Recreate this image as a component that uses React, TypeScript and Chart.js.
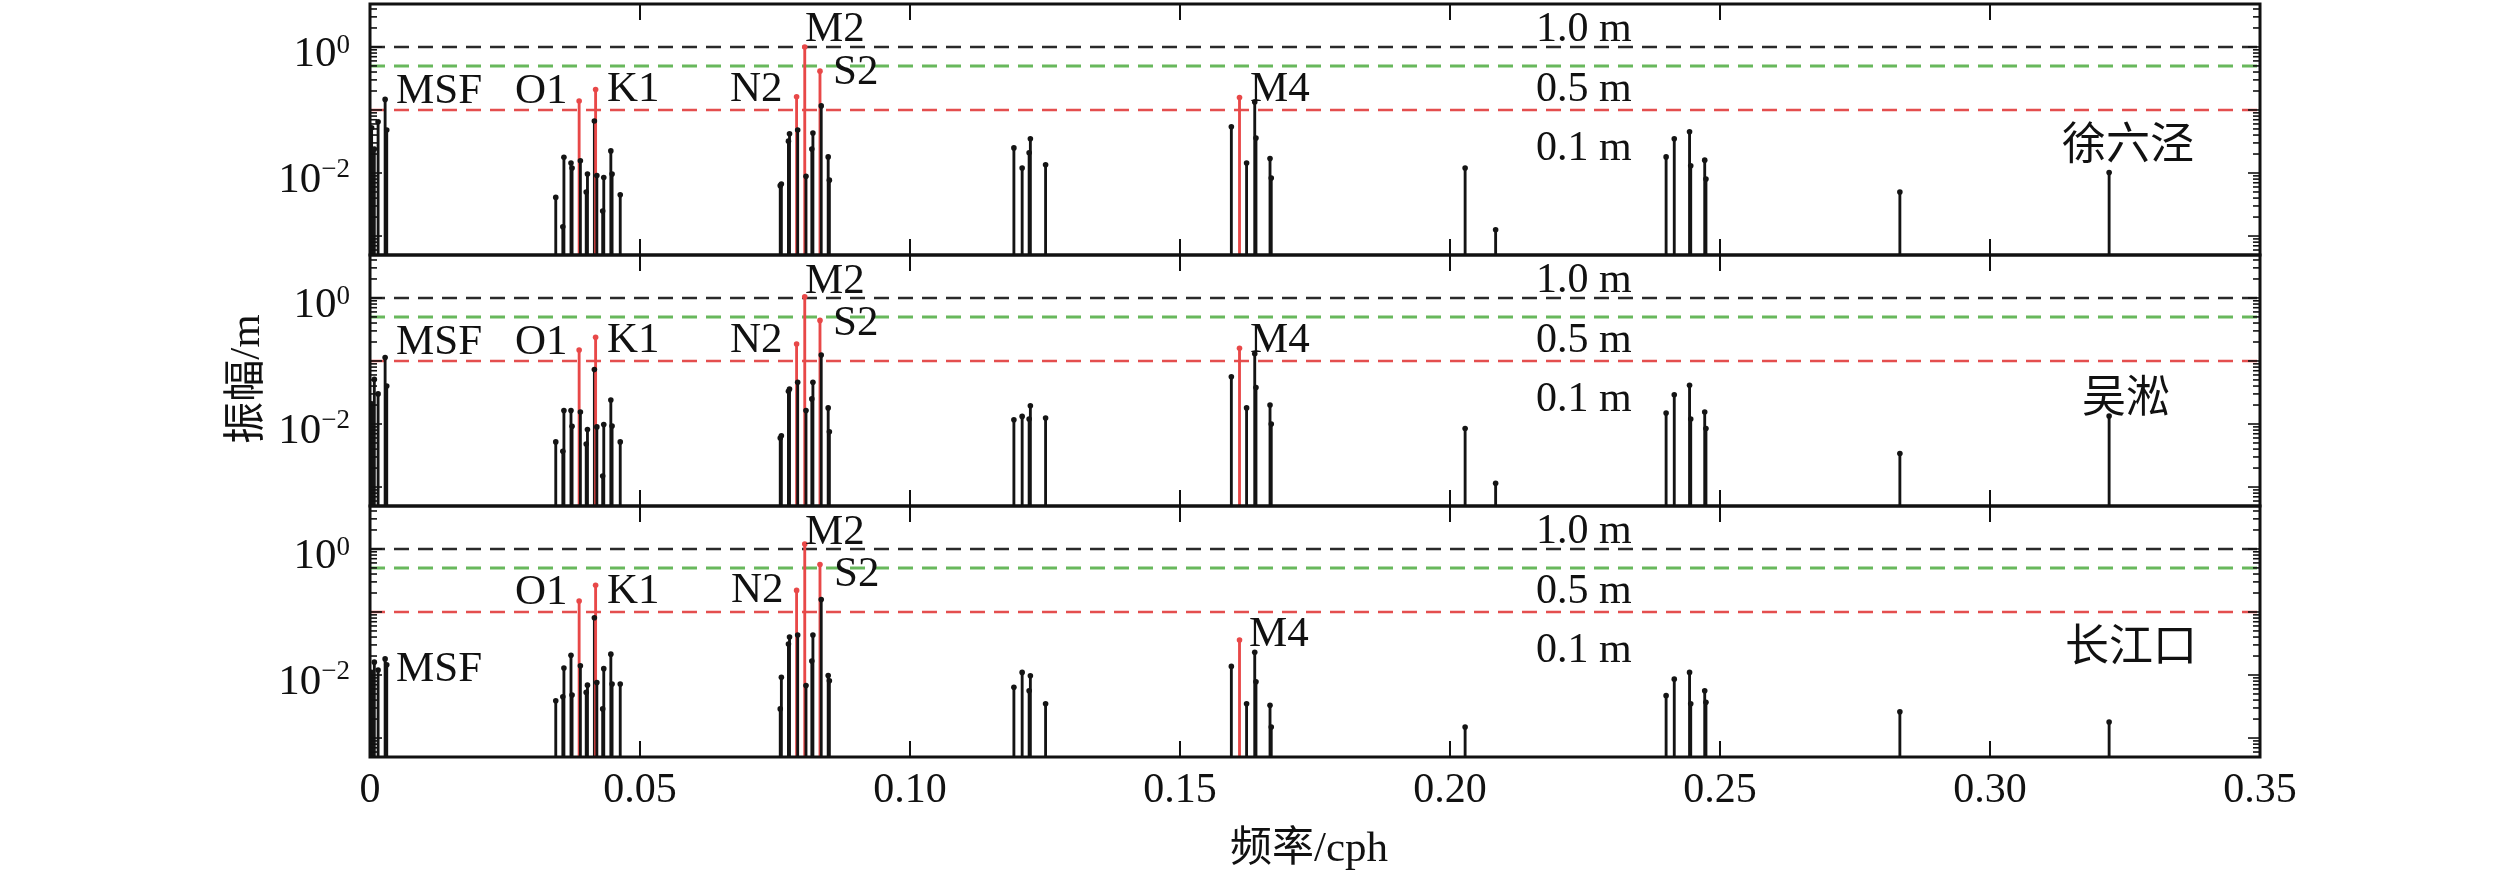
import React, { useEffect, useRef } from 'react';
import { Chart, registerables } from 'chart.js';

Chart.register(...registerables);

// ---------------- data ----------------
const CONSTITUENTS = [
  'SA', 'SSA', 'MM', 'MSF', 'MF',
  'ALP1', '2Q1', 'SIG1', 'Q1', 'RHO1', 'O1', 'TAU1', 'BET1', 'NO1', 'P1', 'K1', 'PHI1', 'THE1', 'J1', 'SO1', 'OO1', 'UPS1',
  'OQ2', 'EPS2', '2N2', 'MU2', 'N2', 'NU2', 'M2', 'MKS2', 'LDA2', 'L2', 'S2', 'K2', 'MSN2', 'ETA2',
  'MO3', 'M3', 'SO3', 'MK3', 'SK3',
  'MN4', 'M4', 'SN4', 'MS4', 'MK4', 'S4', 'SK4',
  '2MK5', '2SK5',
  '2MN6', 'M6', '2MS6', '2MK6', '2SM6', 'MSK6',
  '3MK7', 'M8',
];

const FREQ_CPH = [
  0.0003, 0.0008, 0.0015, 0.0028, 0.0031,
  0.0344, 0.03571, 0.03591, 0.03722, 0.03742, 0.03873, 0.03896, 0.04004, 0.04027, 0.04155, 0.04178, 0.04201, 0.04309, 0.04329, 0.0446, 0.04483, 0.04634,
  0.07597, 0.07618, 0.07749, 0.07769, 0.079, 0.0792, 0.08051, 0.08074, 0.08182, 0.08202, 0.08333, 0.08356, 0.08485, 0.08507,
  0.11924, 0.12077, 0.12206, 0.12229, 0.12511,
  0.15951, 0.16102, 0.16233, 0.16384, 0.16407, 0.16667, 0.1669,
  0.2028, 0.20845,
  0.24002, 0.24153, 0.24436, 0.24458, 0.24717, 0.2474,
  0.28331, 0.32206,
];

// 徐六泾
const AMP_XULIUJING = [
  0.052, 0.024, 0.065, 0.147, 0.048,
  0.0041, 0.0014, 0.0177, 0.0144, 0.012, 0.139, 0.0156, 0.005, 0.0096, 0.067, 0.211, 0.0091, 0.0025, 0.0085, 0.0224, 0.0096, 0.0045,
  0.0063, 0.0067, 0.032, 0.042, 0.162, 0.048, 1.0, 0.0089, 0.024, 0.043, 0.413, 0.116, 0.018, 0.0077,
  0.025, 0.012, 0.021, 0.035, 0.0135,
  0.054, 0.158, 0.0144, 0.134, 0.036, 0.017, 0.0083,
  0.012, 0.00126,
  0.018, 0.035, 0.045, 0.013, 0.016, 0.008,
  0.005, 0.0102,
];

// 吴淞
const AMP_WUSONG = [
  0.021, 0.051, 0.03, 0.113, 0.04,
  0.0052, 0.0037, 0.0164, 0.0164, 0.0092, 0.149, 0.0155, 0.0048, 0.0082, 0.073, 0.237, 0.009, 0.0015, 0.0098, 0.024, 0.0093, 0.0052,
  0.006, 0.0065, 0.033, 0.036, 0.186, 0.046, 1.04, 0.0164, 0.025, 0.046, 0.44, 0.124, 0.018, 0.0075,
  0.0117, 0.0132, 0.012, 0.0195, 0.0124,
  0.056, 0.159, 0.018, 0.13, 0.038, 0.02, 0.01,
  0.0085, 0.00115,
  0.0149, 0.029, 0.041, 0.012, 0.0155, 0.0085,
  0.0034, 0.0134,
];

// 长江口
const AMP_CHANGJIANGKOU = [
  0.011, 0.016, 0.012, 0.018, 0.0145,
  0.0039, 0.0045, 0.0129, 0.0206, 0.0048, 0.149, 0.014, 0.0053, 0.0069, 0.081, 0.266, 0.0076, 0.0029, 0.0126, 0.0214, 0.0072, 0.0072,
  0.0029, 0.0092, 0.031, 0.04, 0.22, 0.043, 1.2, 0.0068, 0.0167, 0.043, 0.565, 0.158, 0.0098, 0.0081,
  0.0064, 0.011, 0.0056, 0.0097, 0.0035,
  0.0137, 0.036, 0.0035, 0.023, 0.0078, 0.0033, 0.0015,
  0.0015, null,
  0.0047, 0.0086, 0.011, 0.0035, 0.0056, 0.0037,
  0.0026, 0.0018,
];

const HIGHLIGHTED = ['O1', 'K1', 'N2', 'M2', 'S2', 'M4'];
const STATIONS = ['徐六泾', '吴淞', '长江口'];
const LEVELS = [1.0, 0.5, 0.1];
const LEVEL_LABELS = ['1.0 m', '0.5 m', '0.1 m'];
const X_TICKS = [0, 0.05, 0.1, 0.15, 0.2, 0.25, 0.3, 0.35];
const Y_LABEL_EXPONENTS = [0, -2];
const PEAK_LABELS = ['MSF', 'O1', 'K1', 'N2', 'M2', 'S2', 'M4'];
const X_TITLE = ['频率', '/cph'];
const Y_TITLE = ['振幅', '/m'];

// ---------------- styles / layout ----------------
const W = 2519;
const H = 881;
const PLOT_LEFT = 370;
const PLOT_RIGHT = 2260;
const PLOT_TOP = 1;
const PLOT_BOTTOM = 757;
const Y_MIN = 5e-4;
const Y_MAX = 4.8;
const BLACK = '#141414';
const RED = 'rgb(232, 72, 72)';
const LEVEL_COLORS = ['#2a2a2a', 'rgb(104, 184, 92)', 'rgb(228, 78, 78)'];
const SERIF = '"Liberation Serif", "Times New Roman", serif';
const CJK = '"Noto Sans CJK SC", sans-serif';
const Y_IDS = ['y1', 'y2', 'y3'];

// label positions: [x, baseline offset from panel top]
const PEAK_POS = [
  { MSF: [396, 99], O1: [515, 99], K1: [607, 97], N2: [730, 97], M2: [805, 37], S2: [833, 80], M4: [1250, 97] },
  { MSF: [396, 99], O1: [515, 99], K1: [607, 97], N2: [730, 97], M2: [805, 38], S2: [833, 80], M4: [1250, 97] },
  { MSF: [396, 175], O1: [515, 98], K1: [607, 97], N2: [731, 96], M2: [805, 38], S2: [834, 80], M4: [1249, 140] },
];
const LEVEL_LABEL_POS = [37, 97, 156];
const STATION_POS = [[2062, 155], [2082, 157], [2065, 155]];

function line(ctx: CanvasRenderingContext2D, x1: number, y1: number, x2: number, y2: number) {
  ctx.beginPath();
  ctx.moveTo(x1, y1);
  ctx.lineTo(x2, y2);
  ctx.stroke();
}

function drawMixed(ctx: CanvasRenderingContext2D, parts: [string, string][], cx: number, cy: number, rotate: boolean) {
  ctx.save();
  ctx.translate(cx, cy);
  if (rotate) ctx.rotate(-Math.PI / 2);
  ctx.textAlign = 'left';
  ctx.textBaseline = 'alphabetic';
  let total = 0;
  const widths = parts.map(([t, f]) => {
    ctx.font = f;
    const w = ctx.measureText(t).width;
    total += w;
    return w;
  });
  let x = -total / 2;
  parts.forEach(([t, f], i) => {
    ctx.font = f;
    ctx.fillText(t, x, 0);
    x += widths[i];
  });
  ctx.restore();
}

const framePlugin = {
  id: 'framePlugin',
  afterDraw(chart: any) {
    const ctx: CanvasRenderingContext2D = chart.ctx;
    const xs = chart.scales.x;
    const { left, right } = chart.chartArea;
    ctx.save();
    ctx.fillStyle = '#111';
    ctx.strokeStyle = '#111';

    Y_IDS.forEach((id, p) => {
      const s = chart.scales[id];
      const top = s.top;
      const bottom = s.bottom;

      // x tick marks (inward, top and bottom)
      ctx.lineWidth = 2;
      X_TICKS.forEach((v) => {
        if (v <= xs.min || v >= xs.max) return;
        const px = xs.getPixelForValue(v);
        line(ctx, px, bottom, px, bottom - 16);
        line(ctx, px, top, px, top + 16);
      });

      // y tick marks (log, inward both sides)
      ctx.lineWidth = 1.6;
      for (let k = -4; k <= 1; k++) {
        for (let m = 1; m <= 9; m++) {
          const v = m * Math.pow(10, k);
          if (v < s.min || v > s.max) continue;
          const py = s.getPixelForValue(v);
          const L = m === 1 ? 12 : 7;
          line(ctx, left, py, left + L, py);
          line(ctx, right, py, right - L, py);
        }
      }

      // frame
      ctx.lineWidth = 3;
      ctx.strokeRect(left, top, right - left, bottom - top);

      // y tick labels 10^n
      Y_LABEL_EXPONENTS.forEach((e) => {
        const py = s.getPixelForValue(Math.pow(10, e));
        const expText = e < 0 ? '\u2212' + String(-e) : String(e);
        ctx.font = `27px ${SERIF}`;
        const we = ctx.measureText(expText).width;
        ctx.font = `43px ${SERIF}`;
        const wb = ctx.measureText('10').width;
        const xr = 350;
        ctx.textAlign = 'left';
        ctx.textBaseline = 'alphabetic';
        ctx.fillText('10', xr - we - wb, py + 19);
        ctx.font = `27px ${SERIF}`;
        ctx.fillText(expText, xr - we, py + (e < 0 ? 4 : 6));
      });

      // peak labels
      ctx.font = `43px ${SERIF}`;
      ctx.textAlign = 'left';
      ctx.textBaseline = 'alphabetic';
      PEAK_LABELS.forEach((name) => {
        const pos = (PEAK_POS[p] as any)[name];
        ctx.fillText(name, pos[0], top + pos[1]);
      });

      // level labels
      ctx.font = `42px ${SERIF}`;
      LEVEL_LABELS.forEach((t, k) => {
        ctx.fillText(t, 1536, top + LEVEL_LABEL_POS[k]);
      });

      // station name
      ctx.font = `44px ${CJK}`;
      ctx.fillText(STATIONS[p], STATION_POS[p][0], top + STATION_POS[p][1]);
    });

    // x tick labels
    ctx.font = `42px ${SERIF}`;
    ctx.textAlign = 'center';
    ctx.textBaseline = 'middle';
    X_TICKS.forEach((v) => {
      const px = xs.getPixelForValue(v);
      ctx.fillText(v === 0 ? '0' : v.toFixed(2), px, 791);
    });

    // axis titles
    drawMixed(ctx, [[X_TITLE[0], `42px ${CJK}`], [X_TITLE[1], `43px ${SERIF}`]], 1309, 861, false);
    drawMixed(ctx, [[Y_TITLE[0], `42px ${CJK}`], [Y_TITLE[1], `43px ${SERIF}`]], 259, 379, true);

    ctx.restore();
  },
};

export default function App() {
  const canvasRef = useRef<HTMLCanvasElement | null>(null);

  useEffect(() => {
    document.body.style.margin = '0';
    const canvas = canvasRef.current;
    if (!canvas) return;

    const panels = [AMP_XULIUJING, AMP_WUSONG, AMP_CHANGJIANGKOU];
    const colors = CONSTITUENTS.map((n) => (HIGHLIGHTED.includes(n) ? RED : BLACK));
    const datasets: any[] = [];
    panels.forEach((amps, p) => {
      const pts = FREQ_CPH.map((f, i) => ({ x: f, y: amps[i] }));
      LEVELS.forEach((lv, k) => {
        datasets.push({
          type: 'line',
          data: [{ x: X_TICKS[0], y: lv }, { x: X_TICKS[X_TICKS.length - 1], y: lv }],
          yAxisID: Y_IDS[p],
          borderColor: LEVEL_COLORS[k],
          borderWidth: k === 1 ? 3 : 2.5,
          borderDash: [15, 9],
          pointRadius: 0,
          fill: false,
          order: 5,
        });
      });
      datasets.push({
        type: 'bar',
        data: pts,
        yAxisID: Y_IDS[p],
        backgroundColor: colors,
        borderWidth: 0,
        barThickness: 2.2,
        grouped: false,
        order: 3,
      });
      datasets.push({
        type: 'scatter',
        data: pts,
        yAxisID: Y_IDS[p],
        pointRadius: 2.8,
        pointBackgroundColor: colors,
        pointBorderWidth: 0,
        showLine: false,
        order: 1,
      });
    });

    const yScale = (weight: number) => ({
      type: 'logarithmic',
      min: Y_MIN,
      max: Y_MAX,
      position: 'left',
      stack: 'amp',
      stackWeight: 1,
      weight,
      offset: false,
      grid: { display: false },
      border: { display: false },
      ticks: { display: false },
      afterFit: (s: any) => {
        s.width = PLOT_LEFT;
      },
    });

    const chart = new Chart(canvas, {
      type: 'bar',
      data: { datasets },
      options: {
        responsive: false,
        animation: false,
        devicePixelRatio: 1,
        layout: { padding: { left: 0, right: W - PLOT_RIGHT, top: PLOT_TOP, bottom: 0 } },
        plugins: { legend: { display: false }, tooltip: { enabled: false } },
        scales: {
          x: {
            type: 'linear',
            min: X_TICKS[0],
            max: X_TICKS[X_TICKS.length - 1],
            position: 'bottom',
            offset: false,
            grid: { display: false },
            border: { display: false },
            ticks: { display: false },
            afterFit: (s: any) => {
              s.height = H - PLOT_BOTTOM;
            },
          },
          y1: yScale(3),
          y2: yScale(2),
          y3: yScale(1),
        } as any,
      },
      plugins: [framePlugin],
    } as any);

    return () => chart.destroy();
  }, []);

  return (
    <div style={{ width: W, height: H, background: '#fff' }}>
      <canvas ref={canvasRef} width={W} height={H} style={{ display: 'block' }} />
    </div>
  );
}
